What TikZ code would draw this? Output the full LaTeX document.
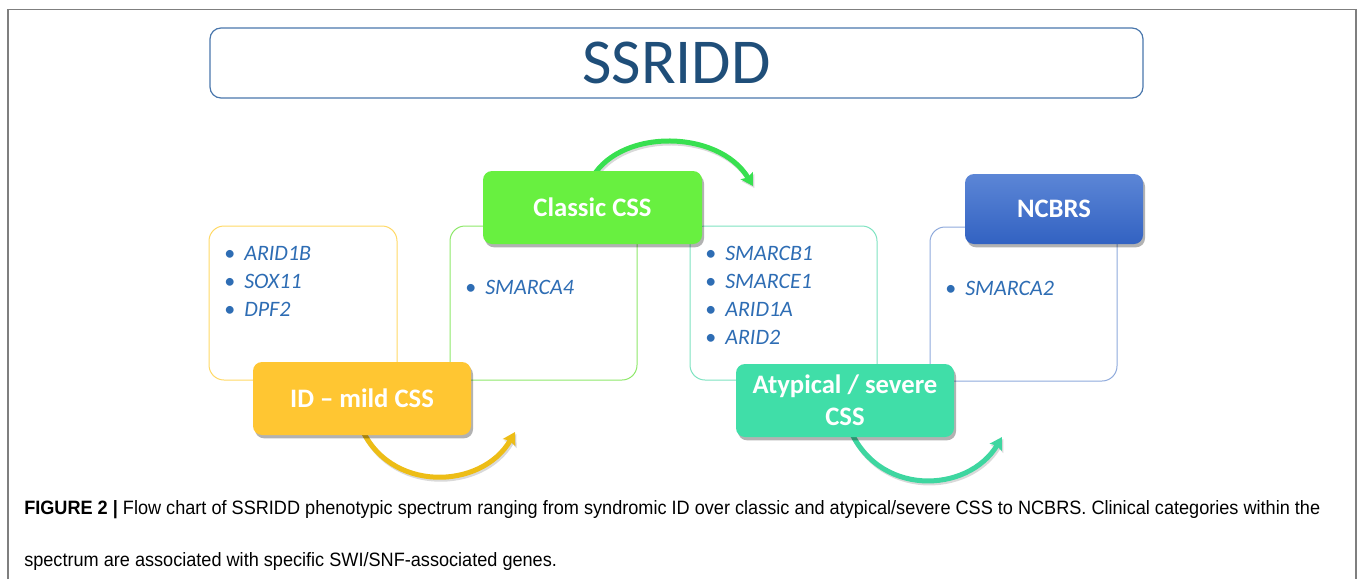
\documentclass[tikz,border=0pt]{standalone}
\usepackage{fontspec}
\setmainfont{Carlito}
\newfontfamily\capfont{Liberation Sans}
\usetikzlibrary{shadows,arrows.meta,calc}
\newdimen\px \px=0.75pt
\definecolor{framec}{HTML}{7F7F7F}
\definecolor{titleb}{HTML}{4A77AC}
\definecolor{titlet}{HTML}{1F4E79}
\definecolor{yelb}{HTML}{FFD966}
\definecolor{greb}{HTML}{8EE86A}
\definecolor{teab}{HTML}{7EE3C1}
\definecolor{blub}{HTML}{8FAADC}
\definecolor{idc}{HTML}{FFC632}
\definecolor{clc}{HTML}{68F040}
\definecolor{atc}{HTML}{40DEA8}
\definecolor{nctop}{HTML}{5C86D6}
\definecolor{ncbot}{HTML}{3262C2}
\definecolor{genec}{HTML}{2E6DB4}
\definecolor{arry}{HTML}{EDBD16}
\definecolor{arrg}{HTML}{38E050}
\definecolor{arrt}{HTML}{3ED6A0}
\newsavebox\capboxa
\newsavebox\capboxb
\begin{document}
\sbox\capboxa{\capfont\fontsize{14.5pt}{16pt}\selectfont\textbf{FIGURE 2 |} Flow chart of SSRIDD phenotypic spectrum ranging from syndromic ID over classic and atypical/severe CSS to NCBRS. Clinical categories within the}
\sbox\capboxb{\capfont\fontsize{14.5pt}{16pt}\selectfont spectrum are associated with specific SWI/SNF-associated genes.}
\begin{tikzpicture}[x=0.75pt,y=-0.75pt,
  genebox/.style={rectangle, rounded corners=15\px, line width=1\px, fill=white},
  lab/.style={rectangle, rounded corners=9\px, draw=none, text=white,
    font=\fontsize{20pt}{24pt}\selectfont\bfseries, align=center,
    drop shadow={shadow xshift=1.5pt, shadow yshift=-2.5pt, opacity=0.3, fill=black}},
  gene/.style={anchor=base west, inner sep=0pt, text=genec,
    font=\fontsize{16.5pt}{20pt}\selectfont},
  arc/.style={line width=3.75pt, -{Stealth[length=9pt,width=10.5pt,inset=1.5pt]},
    preaction={draw=black, opacity=0.15, line width=3.75pt, transform canvas={xshift=1pt,yshift=-1.5pt}}},
  capt/.style={anchor=base west, inner sep=0pt}
]
\useasboundingbox (0,0) rectangle (1360,579);
\pgfmathsetmacro\capsc{972/(\the\wd\capboxa)}
% outer frame
\draw[framec, line width=1.6\px] (8,579) -- (8,9.5) -- (1356,9.5) -- (1356,579);
% title
\node[rectangle, rounded corners=11\px, draw=titleb, line width=1.2\px,
  minimum width=933\px, minimum height=70\px, text=titlet,
  font=\fontsize{48pt}{56pt}\selectfont] (title) at (676.5,63) {SSRIDD};
% gene boxes
\node[genebox, draw=yelb, minimum width=188\px, minimum height=154\px] (g1) at (303,303) {};
\node[genebox, draw=greb, minimum width=187\px, minimum height=154\px] (g2) at (543.5,303) {};
\node[genebox, draw=teab, minimum width=187\px, minimum height=154\px] (g3) at (783.5,303) {};
\node[genebox, draw=blub, minimum width=187\px, minimum height=154\px] (g4) at (1023.5,304) {};
% gene lists
\node[gene] (a1) at (224,260) {\makebox[20\px][l]{\textbullet}\textit{ARID1B}};
\node[gene] (a2) at (224,288) {\makebox[20\px][l]{\textbullet}\textit{SOX11}};
\node[gene] (a3) at (224,316) {\makebox[20\px][l]{\textbullet}\textit{DPF2}};
\node[gene] (b1) at (465,294) {\makebox[20\px][l]{\textbullet}\textit{SMARCA4}};
\node[gene] (c1) at (705,260) {\makebox[20\px][l]{\textbullet}\textit{SMARCB1}};
\node[gene] (c2) at (705,288) {\makebox[20\px][l]{\textbullet}\textit{SMARCE1}};
\node[gene] (c3) at (705,316) {\makebox[20\px][l]{\textbullet}\textit{ARID1A}};
\node[gene] (c4) at (705,344) {\makebox[20\px][l]{\textbullet}\textit{ARID2}};
\node[gene] (d1) at (945,295) {\makebox[20\px][l]{\textbullet}\textit{SMARCA2}};
% arcs (behind label boxes)
\coordinate (ty) at (515,432);
\coordinate (tg) at (753,186);
\coordinate (tt) at (1002,437);
\coordinate (sy) at (360,425);
\coordinate (sg) at (590,182);
\coordinate (st) at (848,425);
\draw[arc, arry] (sy) .. controls (388,494) and (482,490) .. (ty);
\draw[arc, arrg] (sg) .. controls (615,128) and (718,128) .. (tg);
\draw[arc, arrt] (st) .. controls (876,498) and (968,494) .. (tt);
% label boxes
\node[lab, fill=idc, minimum width=218\px, minimum height=73\px] (id) at (362,398.5) {ID -- mild CSS};
\node[lab, fill=clc, minimum width=219\px, minimum height=73\px] (classic) at (592.5,207.5) {Classic CSS};
\node[lab, fill=atc, minimum width=218\px, minimum height=73\px] (aty) at (845,400.5) {Atypical / severe\\CSS};
\node[lab, top color=nctop, bottom color=ncbot, minimum width=178\px, minimum height=70\px] (nc) at (1054,209) {NCBRS};
% caption
\node[capt] (cap1) at (24,514) {\scalebox{\capsc}[1]{\usebox\capboxa}};
\node[capt] (cap2) at (24,566) {\scalebox{\capsc}[1]{\usebox\capboxb}};
\end{tikzpicture}
\end{document}
